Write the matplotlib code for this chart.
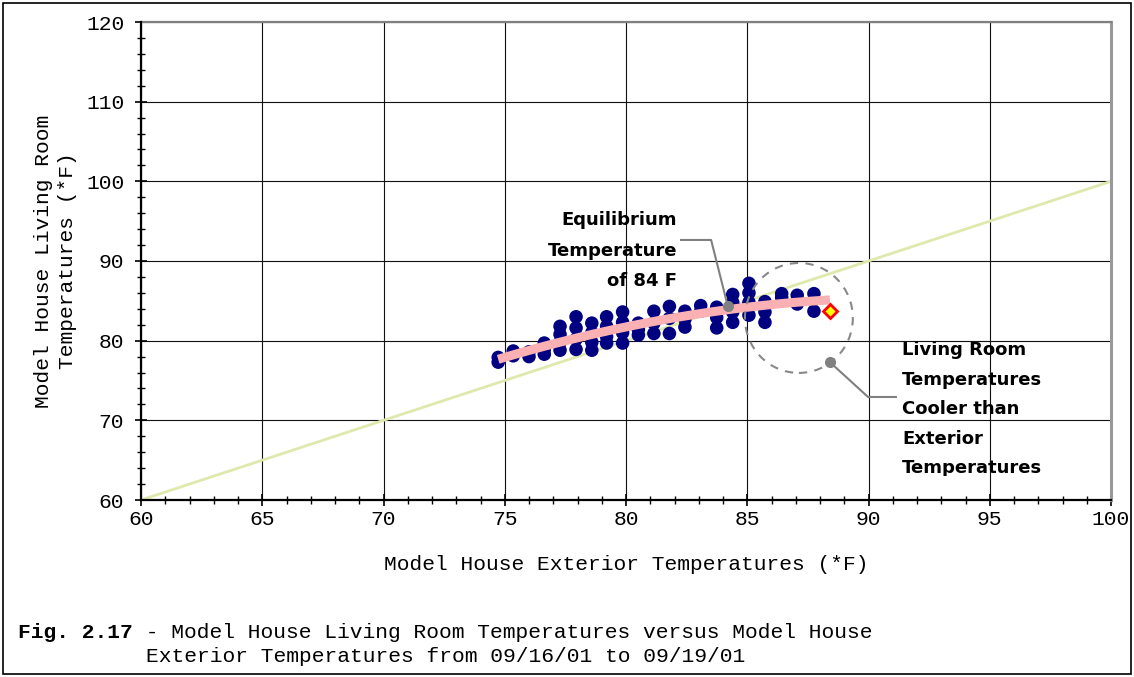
import matplotlib
matplotlib.use("Agg")
import matplotlib.pyplot as plt
from matplotlib.patches import Ellipse, Rectangle
from matplotlib.transforms import Bbox, TransformedBbox
import numpy as np

# exterior temperature columns and the living room readings at each one
ext_cols = [74.73, 75.35, 76.00, 76.63, 77.28, 77.94, 78.59, 79.20, 79.86, 80.51, 81.15,
            81.79, 82.43, 83.08, 83.74, 84.40, 85.07, 85.73, 86.42, 87.06, 87.75]
room_vals = [
    [77.9, 77.3],
    [78.7, 78.1],
    [78.6, 78.0],
    [79.7, 78.9, 78.3],
    [81.8, 80.8, 79.8, 78.8],
    [83.0, 81.6, 80.2, 78.9],
    [82.2, 81.0, 79.8, 78.8],
    [83.0, 81.8, 80.5, 79.7],
    [83.6, 82.3, 81.0, 79.7],
    [82.2, 81.4, 80.7],
    [83.7, 82.2, 80.9],
    [84.3, 82.8, 80.9],
    [83.7, 82.7, 81.7],
    [84.4, 83.7],
    [84.2, 82.9, 81.6],
    [85.8, 84.8, 83.6, 82.3],
    [87.2, 86.0, 84.8, 83.2],
    [84.9, 83.6, 82.3],
    [85.9, 85.4],
    [85.7, 84.6],
    [85.9, 83.7],
]
last_point = (88.41, 83.7)
equilibrium = (84.2, 84.3)

diag = [60, 100]

ext = np.concatenate([[c] * len(v) for c, v in zip(ext_cols, room_vals)])
room = np.concatenate(room_vals)

MONO = "Liberation Mono"
COMIC = "DejaVu Sans"

fig = plt.figure(figsize=(11.34, 6.77), dpi=100)
ax = fig.add_axes([141 / 1134, 1 - 500 / 677, 970 / 1134, 478 / 677])

# reference line y = x
ax.plot(diag, diag, color="#dfe9ae", lw=2, zorder=2)

# scatter
ax.scatter(ext, room, s=95, color="#000080", edgecolors="none", zorder=3)

# 2nd order trend
all_x = np.append(ext, last_point[0])
all_y = np.append(room, last_point[1])
coef = np.polyfit(all_x, all_y, 2)
tx = np.linspace(all_x.min(), all_x.max(), 100)
ax.plot(tx, np.polyval(coef, tx), color="#fbb0b4", lw=6.5, solid_capstyle="butt", zorder=4)

ax.plot(*last_point, marker="D", ms=7.5, mfc="#ffff00", mec="#ff0000", mew=2, zorder=5)

# axes
ax.set_xlim(60, 100)
ax.set_ylim(60, 120)
ax.set_xticks(np.arange(60, 101, 5))
ax.set_yticks(np.arange(60, 121, 10))
ax.set_xticks(np.arange(60, 101, 1), minor=True)
ax.set_yticks(np.arange(60, 121, 2), minor=True)
ax.grid(True, which="major", color="#111111", lw=0.8, zorder=0)
ax.set_axisbelow(True)
ax.tick_params(which="major", direction="inout", length=8, width=1.2, labelsize=15.3)
ax.tick_params(which="minor", direction="inout", length=6, width=1)
ax.tick_params(axis="x", which="major", pad=3)
ax.tick_params(axis="y", which="major", pad=8)
for lab in ax.get_xticklabels() + ax.get_yticklabels():
    lab.set_fontfamily(MONO)
for s in ["left", "bottom"]:
    ax.spines[s].set_color("black")
    ax.spines[s].set_linewidth(1.6)
    ax.spines[s].set_zorder(6)
ax.spines["top"].set_color("#808080")
ax.spines["top"].set_linewidth(1.6)
ax.spines["right"].set_color("#999999")
ax.spines["right"].set_linewidth(2.2)

ax.set_xlabel("Model House Exterior Temperatures (*F)", fontfamily=MONO, fontsize=15.3)
ax.xaxis.set_label_coords(0.5, -0.115)
ax.set_ylabel("Model House Living Room\nTemperatures (*F)", fontfamily=MONO, fontsize=15.3,
              linespacing=1.3)
ax.yaxis.set_label_coords(-0.066, 0.5)

# equilibrium callout
ax.plot([82.27, 83.51, equilibrium[0]], [92.64, 92.64, equilibrium[1]], color="#808080", lw=1.5, zorder=6)
ax.plot(*equilibrium, marker="o", ms=7, color="#808080", zorder=7)
for txt, yy in zip(["Equilibrium", "Temperature", "of 84 F"], [95.2, 91.3, 87.55]):
    ax.text(82.1, yy, txt, ha="right", va="center", fontfamily=COMIC, fontweight="bold", fontsize=13)

# cooler-than-exterior callout
ax.add_patch(Ellipse((87.13, 82.85), 4.45, 13.8, fill=False, ec="#888888", lw=1.5,
                     ls=(0, (4, 3.5)), zorder=6))
ax.plot([88.41, 89.98, 91.13], [77.3, 72.93, 72.93], color="#808080", lw=1.5, zorder=6)
ax.plot(88.41, 77.3, marker="o", ms=7, color="#808080", zorder=7)
clip = TransformedBbox(Bbox([[91.0, 63.0], [100, 82]]), ax.transData)
for txt, yy in zip(["Living Room", "Temperatures", "Cooler than", "Exterior", "Temperatures"],
                   [78.83, 75.07, 71.43, 67.66, 64.02]):
    t = ax.text(91.38, yy, txt, ha="left", va="center", fontfamily=COMIC, fontweight="bold",
                fontsize=13, clip_on=True)
    t.set_clip_box(clip)

# caption
fig.text(18 / 1134, 1 - 632 / 677, "Fig. 2.17", fontfamily=MONO, fontweight="bold",
         fontsize=15.3, va="center", ha="left")
fig.text(18 / 1134 + 9 * 12.76 / 1134, 1 - 632 / 677,
         " - Model House Living Room Temperatures versus Model House",
         fontfamily=MONO, fontsize=15.3, va="center", ha="left")
fig.text(18 / 1134 + 10 * 12.76 / 1134, 1 - 657 / 677,
         "Exterior Temperatures from 09/16/01 to 09/19/01",
         fontfamily=MONO, fontsize=15.3, va="center", ha="left")

# outer frame
fig.patches.append(Rectangle((3 / 1134, 3 / 677), 1128 / 1134, 671 / 677, transform=fig.transFigure,
                             fill=False, ec="black", lw=1.2))

fig.savefig("out.png", dpi=100)
